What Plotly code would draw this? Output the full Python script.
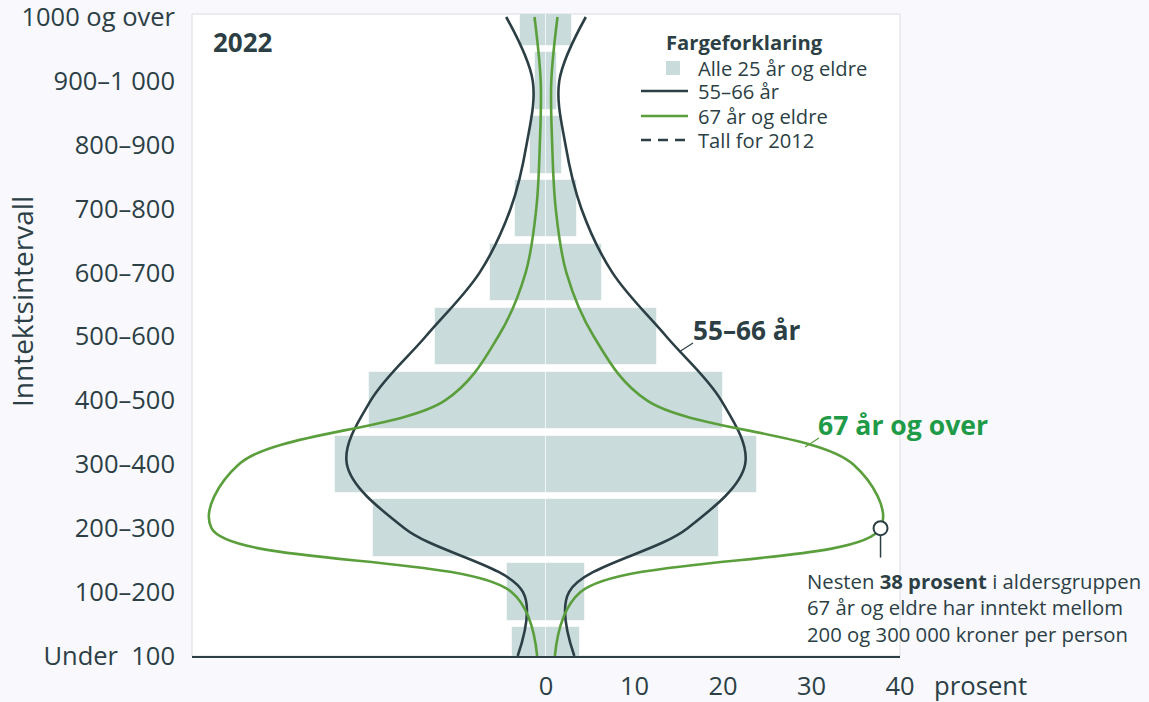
import plotly.graph_objects as go

# Income brackets (thousand NOK), bottom to top
categories = ["Under  100", "100–200", "200–300", "300–400", "400–500", "500–600",
              "600–700", "700–800", "800–900", "900–1 000", "1000 og over"]

# Share of persons in each bracket, percent
alle_25_pluss = [3.8, 4.4, 19.6, 23.8, 20.0, 12.5, 6.3, 3.5, 1.8, 1.2, 2.9]
alder_55_66 = [3.2, 2.6, 16.0, 22.5, 19.8, 13.6, 7.5, 4.0, 2.2, 1.5, 4.5]
alder_67_pluss = [1.0, 3.9, 37.8, 34.7, 11.4, 5.4, 2.3, 1.1, 0.7, 0.6, 1.3]

x_ticks = [0, 10, 20, 30, 40]
highlight_index = 2  # 200–300

DARK = "#2c3f45"
GREEN_LINE = "#5b9f3d"
GREEN_TEXT = "#1f9b48"
BAR = "#c9dbdb"
FONT = "Open Sans"

W, H = 1149, 702
ML, MR, MT, MB = 192, 249, 14, 46
PW, PH = W - ML - MR, H - MT - MB


def px(x):
    return (x - ML) / PW


def py(y):
    return (H - MB - y) / PH


ypos = list(range(len(categories)))

fig = go.Figure()

# Mirrored bars for all persons 25 and older
for sign in (1, -1):
    fig.add_trace(go.Bar(
        x=[sign * v for v in alle_25_pluss], y=ypos, orientation="h", width=0.9,
        marker=dict(color=BAR, line=dict(color="rgba(255,255,255,0.55)", width=1)),
        showlegend=False, hoverinfo="skip",
    ))

# Mirrored smooth outlines for the two age groups
for values, color in ((alder_55_66, DARK), (alder_67_pluss, GREEN_LINE)):
    for sign in (1, -1):
        fig.add_trace(go.Scatter(
            x=[sign * v for v in values], y=ypos, mode="lines",
            line=dict(color=color, width=2.6, shape="spline", smoothing=1.0),
            showlegend=False, hoverinfo="skip",
        ))

# Highlighted point for 67+ in the 200–300 bracket
hx = alder_67_pluss[highlight_index]
fig.add_shape(type="line", xref="x", yref="y", x0=hx, x1=hx,
              y0=highlight_index - 0.46, y1=highlight_index,
              line=dict(color=DARK, width=1.5), layer="below")
fig.add_trace(go.Scatter(
    x=[hx], y=[highlight_index], mode="markers",
    marker=dict(size=14, color="white", line=dict(color=DARK, width=2)),
    showlegend=False, hoverinfo="skip", cliponaxis=False,
))

# Light plot frame
fig.add_shape(type="rect", xref="paper", yref="paper", x0=0, x1=1, y0=0, y1=1,
              line=dict(color="#dcdce3", width=1), layer="below")

annotations = []
shapes = []


def text(x, y, s, size, color=DARK, xanchor="left", yanchor="middle", **kw):
    annotations.append(dict(
        x=px(x), y=py(y), xref="paper", yref="paper", text=s, showarrow=False,
        xanchor=xanchor, yanchor=yanchor,
        font=dict(family=FONT, size=size, color=color), **kw))


def seg(x0, y0, x1, y1, color, width=1.2, dash=None):
    shapes.append(dict(type="line", xref="paper", yref="paper",
                       x0=px(x0), y0=py(y0), x1=px(x1), y1=py(y1),
                       line=dict(color=color, width=width, dash=dash)))


text(211, 42, "<b>2022</b>", 26)

# Legend
text(664, 42, "<b>Fargeforklaring</b>", 20.2)
shapes.append(dict(type="rect", xref="paper", yref="paper",
                   x0=px(666), x1=px(680), y0=py(75), y1=py(61),
                   fillcolor=BAR, line=dict(width=0)))
text(696, 68, "Alle 25 år og eldre", 20.2)
seg(641, 91, 688, 91, DARK, 2.6)
text(696, 91, "55–66 år", 20.2)
seg(641, 116, 688, 116, GREEN_LINE, 2.6)
text(696, 116, "67 år og eldre", 20.2)
seg(641, 140, 688, 140, DARK, 2.6, dash="10px,7px")
text(696, 140, "Tall for 2012", 20.2)

# Series labels
text(691, 330, "<b>55–66 år</b>", 26.2)
seg(679, 352, 693, 343, DARK)
text(816, 425, "<b>67 år og over</b>", 26.6, color=GREEN_TEXT)
seg(805, 447, 819, 438, GREEN_LINE)

# Callout
text(805, 565, "Nesten <b>38 prosent</b> i aldersgruppen<br>"
     "67 år og eldre har inntekt mellom<br>"
     "200 og 300 000 kroner per person", 20.3, yanchor="top", align="left")

# Axis captions
text(932, 686, "prosent", 25.7)
text(22, 302, "Inntektsintervall", 28, xanchor="center", textangle=-90)

fig.update_layout(
    width=W, height=H,
    margin=dict(l=ML, r=MR, t=MT, b=MB, pad=0, autoexpand=False),
    paper_bgcolor="#f8f8fd", plot_bgcolor="white",
    barmode="overlay", bargap=0,
    font=dict(family=FONT, color=DARK),
    annotations=annotations,
    shapes=list(fig.layout.shapes) + shapes,
    xaxis=dict(range=[-40, 40], tickvals=x_ticks, ticktext=[str(t) for t in x_ticks],
               showgrid=False, zeroline=False, ticks="", automargin=False,
               showline=True, linecolor=DARK, linewidth=2,
               tickfont=dict(family=FONT, size=25.5, color=DARK), ticklabelstandoff=6),
    yaxis=dict(range=[0, 10.047], tickvals=ypos, ticktext=categories,
               showgrid=False, zeroline=False, ticks="", showline=False, automargin=False,
               ticklabeloverflow="allow",
               tickfont=dict(family=FONT, size=25.5, color=DARK), ticklabelstandoff=16),
)

fig.write_html("out.html")
